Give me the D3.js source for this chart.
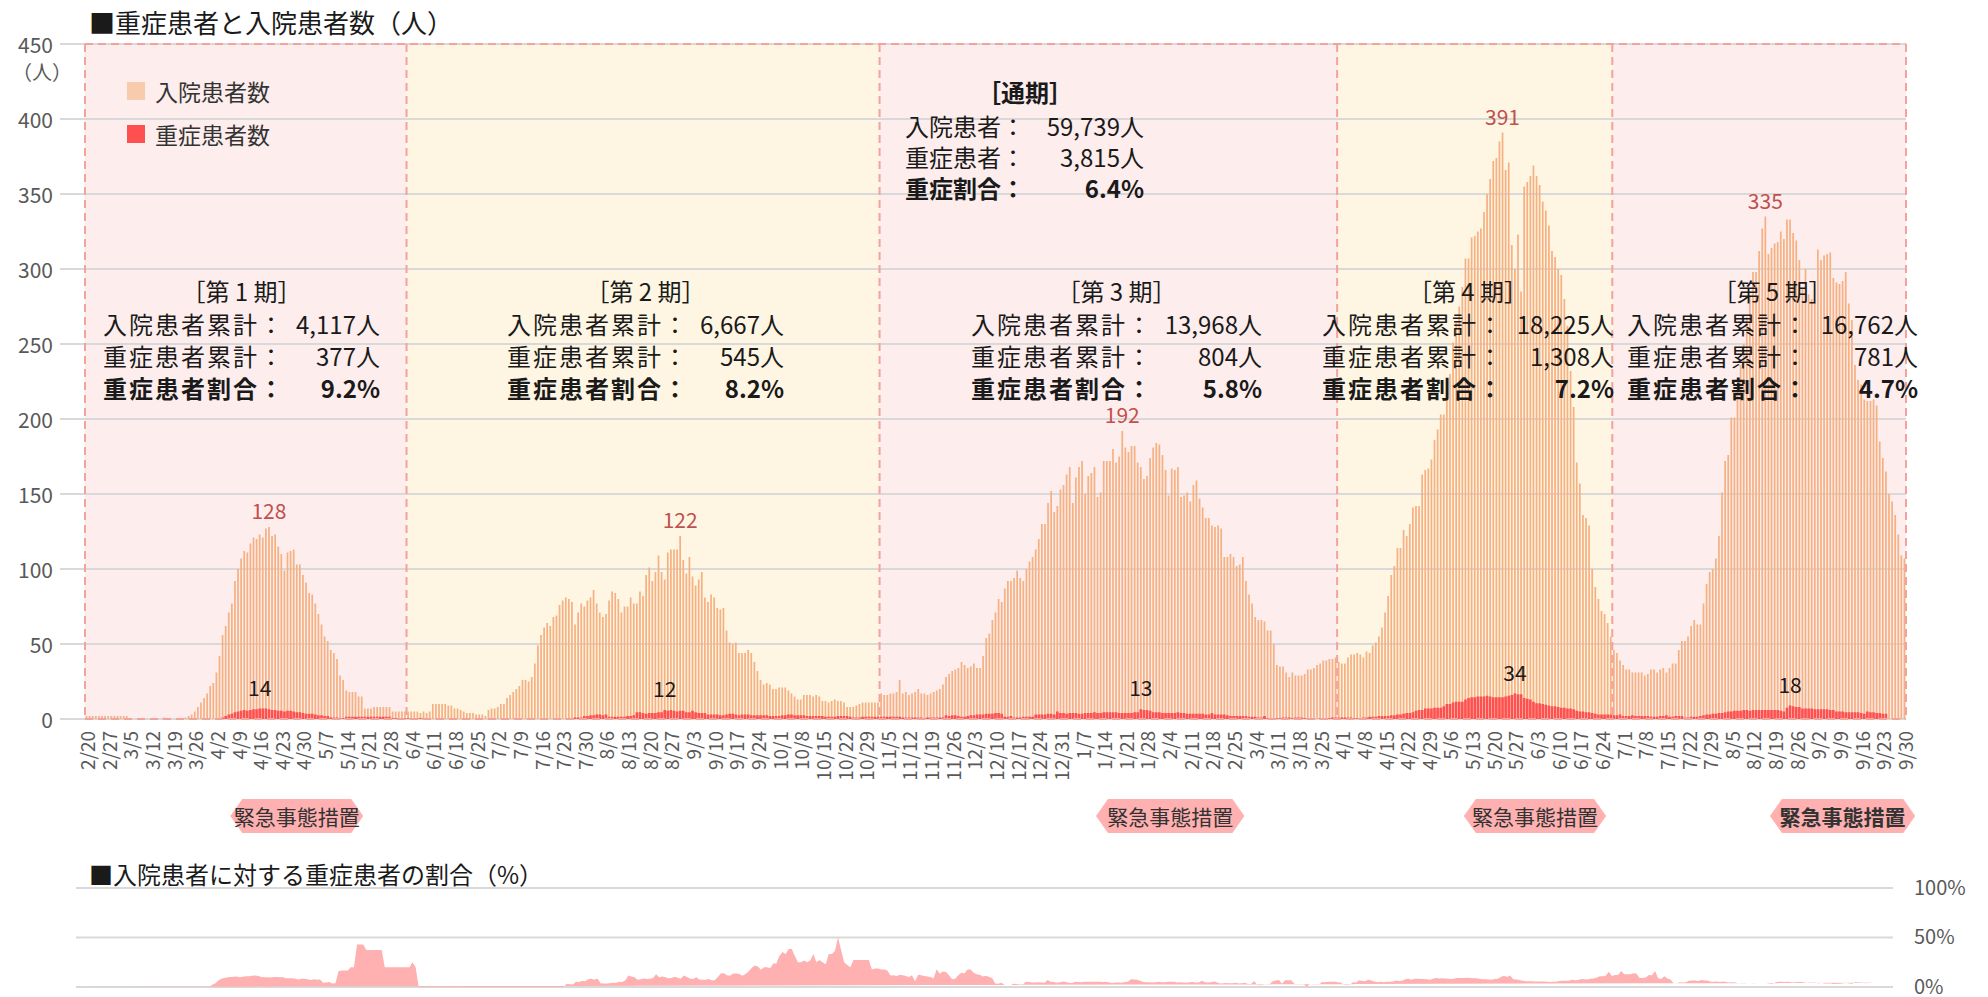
<!DOCTYPE html>
<html>
<head>
<meta charset="utf-8">
<script src="https://cdn.jsdelivr.net/npm/d3@7"></script>
<style>
body{margin:0;background:#fff;}
svg{display:block;font-family:"Noto Sans CJK JP","Noto Sans",sans-serif;}
</style>
</head>
<body>
<svg id="chart" width="1988" height="997"></svg>
<script>
// daily inpatients (入院患者数), one array per period
const hosp1 = [2,2,2,2,2,2,2,2,2,2,2,2,2,2, 0,0,0,0,0,0,0,0,0,0,0, 1, 0,0,0,0,0,0,
  1,2,3,5,8,11,14,17,22,24, 31,42,56,62,71,77,92,100,107,112,
  111,117,121,120,123,121,127,128,122,123, 115,110,99,111,112,113,103,103,96,91,
  84,83,77,70,63,55,52,46,44,40, 29,26,19,18,18,18,15,15, 7,7,7,8,8,8,8,8,8, 5,5,5,5,5]
const hosp2 = [5,5,5,5,4,5,4,5, 10,10,10,10,10,9, 9,7,7,6, 5,4,4,4,3,3,3,2, 6,7,7,8, 10,10,14,
  16,18,20,22,26,26,25,28,37,
  49,56,61,64,62,68,69,76,79,81,80,78,63,71,77,75,79,81,86,77,71,68,70,79,85,84,80,71,75,75,81,77,77,85,82,
  96,101,92,98,109,98,93,111,113,113,113,122,106,97,108,95,89,93,98,81,78,83,81,74,73,74,
  59,51,50,51,44,44,44,46,44,38, 32,26,23,24,23,20,20,21,21,21, 19,17,15,13,13,16,16,16,15,16,
  15,12,12,11,12,13,12,12,11,8, 8,8,9,10,11,11,11,11,11,11]
const hosp3 = [17,16,16,17,17,18,26,17,18,16,17,18,20,17,17,16,17,18,19,20,
  23,28,30,32,33,34,38,36,34,35,37,34,34,42, 54,57,66,71,80,78,87,92,92,94,99,
  94,92,100,105,108,113,120,130,130,144, 152,138,142,153,156,163,168,144,161,168,172,
  150,162,164,168,148,151,172,172,172,180,171,175,192,
  181,178,182,182,171,168,160,162,174,181,184,183,176,166,149,167,166,168,148,149,151,145,156,159,147,141,134,134,129,128,129,127,108,
  108,110,108,102,103,108,92,83,77,68,66,66,65,59,59,50,
  36,35,35,31,28,31,29,29,29,30,33,33,34,36,37,39,39,40,40,41]
const hosp4 = [38,37,37,41,43,43,44,43,41,45, 44,49,51,55,61,71,82,96,102,114,
  114,126,122,130,141,142,142,163,166,167, 173,186,193,203,203,220,230,251,264,275,
  288,307,307,321,322,325,327,338,350,360, 372,374,385,391,366,371,316,300,323,285,
  355,358,362,369,362,356,345,339,329,312, 308,300,296,280,262,232,208,171,157,136,
  134,129,100,88,80,72,70,64,55]
const hosp5 = [46,44,39,36,33,33,31,31,31,31, 29,30,33,33,31,33,34,31,34,37,
  37,46,52,52,55,62,66,63,63,77, 90,98,100,107,122,151,172,176,201,201,
  220,236,250,268,282,298,298,312,327,335, 310,314,317,318,325,320,333,333,324,319,
  306,287,300,283,280,278,313,306,309,310, 311,294,291,290,292,298,277,266,236,226,
  223,213,212,212,213,209,185,174,165,150, 145,136,123,109,107]

// daily severe patients (重症患者数)
const severe1 = [0,0,0,0,0,0,0,0,0,0,0,0,0,0,0,0,0,0,0,0,0,0,0,0,0,0,0,0,0,0,0,0,0,0,0,0,0,0,0,0,0,0,0,
  1,2,4,6,7,9,10,11,12, 11,12,13,13,14,14,14,13,12,12, 11,11,10,11,11,10,9,9,8,7,
  7,7,6,5,5,4,4,2,2,2, 1,1,3,3,3,3,3,3, 3,3,3,3,3,3,3,3,3, 1,1,1,1,1]
const severe2 = [1,1,1,1,1,1,
  0,0,0,0,0,0,0,0,0,0,0,0,0,0,0,0,0,0,0,0,0,0,0,0,0,0,0,0,0,0,0,0,0,0,0,0,0,0,0,0,0,0,0,0,0,0,0,0,
  2,2,2, 4,4,5,5, 6,6,5,6, 3,3,3,3,3,3,4,4,5, 9,9,8, 7,8,8,8,9,9,
  12,11,12,11,10,11,11,9,9, 11, 9,8,8,8,6,6,6,6,5,5, 6,7,7,6,5, 6,6,6,5,5,5,5,
  5,5,4,4,4,4, 5,5,6,6,5,5,5,5, 4,4,4,4,4,4,3,3,3,3, 4,4,4,4,3,2,2,2]
const severe3 = [3,3,3,3,3,3,3,3,3,3,3,3,3,2,2,2,2,2,2,2,
  1,2,2,2,2,2,2,5,4,5,5,4,3,3, 4,5,5,6,6,6,7,7,7,8,8,
  7,3,3,4,2,2,2,3,3,3, 3,6,6,6,6,7,7,6,10,8,8,
  7,8,8,8,7,7,8,8,8,9,8,8,9,
  9,9,9,9,8,8,8,8,8,9,9,13,12,12,11,9,9,9,8,8,8,8,8,9,8,8,7,7,7,7,7,7,6,
  6,8,6,6,6,6,5,4,4,4,4,4,4,3,3,3,
  2,2,4,1,1,1,1,1,2,2,2,1,2,2,2,1,1,1,1,0]
const severe4 = [1,1,1,1,2,2,2,2,2,2, 2,1,1,1,2,2,3,3,3,4,
  4,4,4,5,5,6,6,7,8,8, 9,11,12,12,14,14,14,15,15,15,
  17,20,20,22,23,23,23,26,28,29, 29,30,30,30,31,30,29,29,29,29,
  30,31,32,34,33,33,28,27,26,23, 21,21,20,19,18,17,17,16,15,15,
  14,14,13,11,10,10,9,9,8]
const severe5 = [7,6,6,6,6,6,5,5,6,4, 4,4,5,4,4,4,4,4,3,3,
  3,4,4,5,3,3,4,4,4,2, 2,3,3,3,4,5,6,6,7,7,
  8,8,9,10,10,11,11,11,12,12, 11,12,12,12,12,12,12,12,12,12,
  11,10,15,18,17,16,16,14,14,14, 14,13,13,13,13,13,12,12,10,10,
  10,9,9,9,9,9,8,7,10,9, 9,8,8,7,7]

// periods
const periodStart = ['2020-02-20','2020-06-03','2020-11-03','2021-03-31','2021-06-28','2021-10-01']
const periodTitles = ['［第 1 期］','［第 2 期］','［第 3 期］','［第 4 期］','［第 5 期］']
const periodHospTotal = ['4,117人','6,667人','13,968人','18,225人','16,762人']
const periodSevTotal = ['377人','545人','804人','1,308人','781人']
const periodRate = ['9.2%','8.2%','5.8%','7.2%','4.7%']
const periodFill = ['#fdeded','#fef6e3','#fdeded','#fef6e3','#fdeded']

// whole-period summary
const totalLabels = ['入院患者：','重症患者：','重症割合：']
const totalValues = ['59,739人','3,815人','6.4%']

// state of emergency
const emergencyStart = ['2020-04-07','2021-01-12','2021-05-11','2021-08-18']
const emergencyEnd = ['2020-05-20','2021-03-01','2021-06-26','2021-10-04']

const hospital = [...hosp1, ...hosp2, ...hosp3, ...hosp4, ...hosp5]
const severe = [...severe1, ...severe2, ...severe3, ...severe4, ...severe5]

const parse = d3.timeParse('%Y-%m-%d')
const fmt = d3.timeFormat('%-m/%-d')
const days = d3.timeDay.range(parse('2020-02-20'), parse('2021-10-01'))
const rows = days.map((d, i) => ({
  date: d, i: i, hosp: hospital[i], sev: severe[i],
  rate: hospital[i] ? severe[i] / hospital[i] * 100 : 0
}))

const svg = d3.select('#chart')
const x = d3.scaleTime().domain([days[0], parse('2021-10-01')]).range([85, 1906])
const bw = x(days[1]) - x(days[0])
const y = d3.scaleLinear().domain([0, 450]).range([719, 44])
const ySev = d3.scaleLinear().domain([0, 900]).range([719, 44]) // hidden secondary axis

const TEXT = '#1a1a1a'
const GREY = '#595959'
const DASH = '#f4a29c'

// titles
svg.append('text').attr('x', 89).attr('y', 21).attr('dominant-baseline', 'central')
  .attr('font-size', 26).attr('fill', TEXT).text('■重症患者と入院患者数（人）')

// period backgrounds
const periods = periodTitles.map((t, k) => ({
  k: k, start: parse(periodStart[k]), end: parse(periodStart[k + 1])
}))
svg.append('g').selectAll('rect').data(periods).enter().append('rect')
  .attr('x', d => x(d.start)).attr('width', d => x(d.end) - x(d.start))
  .attr('y', y(450)).attr('height', y(0) - y(450))
  .attr('fill', d => periodFill[d.k])

// grid
svg.append('g').selectAll('line').data(d3.range(0, 451, 50)).enter().append('line')
  .attr('x1', 60).attr('x2', 1906)
  .attr('y1', d => y(d)).attr('y2', d => y(d))
  .attr('stroke', '#d9d9d9').attr('stroke-width', 2)

// y axis labels
svg.append('g').selectAll('text').data(d3.range(0, 451, 50)).enter().append('text')
  .attr('x', 53).attr('y', d => y(d)).attr('text-anchor', 'end').attr('dominant-baseline', 'central')
  .attr('font-size', 21).attr('fill', GREY).text(d => d)
svg.append('text').attr('x', 42).attr('y', 71).attr('text-anchor', 'middle').attr('dominant-baseline', 'central')
  .attr('font-size', 20).attr('fill', GREY).text('（人）')

// inpatient bars
const hbw = bw * 0.56
svg.append('g').selectAll('rect').data(rows.filter(d => d.hosp > 0)).enter().append('rect')
  .attr('x', d => x(d.date) + (bw - hbw) / 2).attr('width', hbw)
  .attr('y', d => y(d.hosp)).attr('height', d => y(0) - y(d.hosp))
  .attr('fill', '#f6b183')

// severe bars
const sbw = bw * 0.85
svg.append('g').selectAll('rect').data(rows.filter(d => d.sev > 0)).enter().append('rect')
  .attr('x', d => x(d.date) + (bw - sbw) / 2).attr('width', sbw)
  .attr('y', d => ySev(d.sev)).attr('height', d => ySev(0) - ySev(d.sev))
  .attr('fill', '#ff5050')

// dashed period borders: one line per edge so the dashes never double up
const edges = periodStart.map(parse)
const borders = svg.append('g').attr('stroke', DASH).attr('stroke-width', 2).attr('stroke-dasharray', '8,5')
borders.selectAll('line.v').data(edges).enter().append('line').attr('class', 'v')
  .attr('x1', d => x(d)).attr('x2', d => x(d)).attr('y1', y(450)).attr('y2', y(0))
borders.selectAll('line.h').data([450, 0]).enter().append('line').attr('class', 'h')
  .attr('x1', x(edges[0])).attr('x2', x(edges[edges.length - 1]))
  .attr('y1', d => y(d)).attr('y2', d => y(d))

// x tick labels (weekly)
svg.append('g').selectAll('text').data(rows.filter(d => d.i % 7 === 0)).enter().append('text')
  .attr('transform', d => `translate(${x(d.date) + bw / 2},731) rotate(-90)`)
  .attr('text-anchor', 'end').attr('dominant-baseline', 'central')
  .attr('font-size', 19).attr('fill', GREY).text(d => fmt(d.date))

// legend
const legend = [['入院患者数', '#f8cbad'], ['重症患者数', '#ff5050']]
legend.forEach((l, k) => {
  svg.append('rect').attr('x', 127).attr('y', 82 + k * 43).attr('width', 18).attr('height', 18).attr('fill', l[1])
  svg.append('text').attr('x', 155).attr('y', 91 + k * 43).attr('dominant-baseline', 'central')
    .attr('font-size', 23).attr('fill', '#333').text(l[0])
})

// peak labels per period
periods.forEach(p => {
  const sub = rows.filter(d => d.date >= p.start && d.date < p.end)
  const hp = sub[d3.maxIndex(sub, d => d.hosp)]
  const sp = sub[d3.maxIndex(sub, d => d.sev)]
  svg.append('text').attr('x', x(hp.date) + bw / 2).attr('y', y(hp.hosp) - 8)
    .attr('text-anchor', 'middle').attr('font-size', 21).attr('fill', '#c0504d').text(hp.hosp)
  svg.append('text').attr('x', x(sp.date) + bw / 2).attr('y', ySev(sp.sev) - 13)
    .attr('text-anchor', 'middle').attr('font-size', 21).attr('fill', TEXT).text(sp.sev)
})

// period summaries
const blockX0 = [103, 507, 971, 1322, 1627]
const blockX1 = [380, 784, 1262, 1614, 1918]
periods.forEach(p => {
  const k = p.k, x0 = blockX0[k], x1 = blockX1[k]
  const g = svg.append('g').attr('font-size', 24).attr('fill', TEXT).attr('dominant-baseline', 'central')
  g.append('text').attr('x', (x0 + x1) / 2).attr('y', 290).attr('text-anchor', 'middle').text(periodTitles[k])
  g.append('text').attr('x', x0).attr('y', 323).attr('letter-spacing', 2).text('入院患者累計：')
  g.append('text').attr('x', x1).attr('y', 323).attr('text-anchor', 'end').text(periodHospTotal[k])
  g.append('text').attr('x', x0).attr('y', 355).attr('letter-spacing', 2).text('重症患者累計：')
  g.append('text').attr('x', x1).attr('y', 355).attr('text-anchor', 'end').text(periodSevTotal[k])
  g.append('text').attr('x', x0).attr('y', 387).attr('letter-spacing', 2).attr('font-weight', 'bold').text('重症患者割合：')
  g.append('text').attr('x', x1).attr('y', 387).attr('text-anchor', 'end').attr('font-weight', 'bold').text(periodRate[k])
})

// whole period summary
const tg = svg.append('g').attr('font-size', 24).attr('fill', TEXT).attr('dominant-baseline', 'central')
tg.append('text').attr('x', 1025).attr('y', 91).attr('text-anchor', 'middle').attr('font-weight', 'bold').text('［通期］')
totalLabels.forEach((l, k) => {
  const bold = k === 2 ? 'bold' : 'normal'
  tg.append('text').attr('x', 905).attr('y', 125 + k * 31).attr('font-weight', bold).text(l)
  tg.append('text').attr('x', 1144).attr('y', 125 + k * 31).attr('text-anchor', 'end').attr('font-weight', bold).text(totalValues[k])
})

// state of emergency tags
emergencyStart.forEach((s, k) => {
  const a = x(parse(s)), b = x(parse(emergencyEnd[k])), t = 799, btm = 833, m = (t + btm) / 2, h = 12
  svg.append('path')
    .attr('d', `M${a},${m}L${a + h},${t}L${b - h},${t}L${b},${m}L${b - h},${btm}L${a + h},${btm}Z`)
    .attr('fill', '#ffb0b0')
  svg.append('text').attr('x', (a + b) / 2).attr('y', m).attr('text-anchor', 'middle').attr('dominant-baseline', 'central')
    .attr('font-size', 21).attr('fill', '#333').attr('font-weight', k === 3 ? 'bold' : 'normal').text('緊急事態措置')
})

// ratio chart
svg.append('text').attr('x', 89).attr('y', 873).attr('dominant-baseline', 'central')
  .attr('font-size', 24).attr('fill', TEXT).text('■入院患者に対する重症患者の割合（%）')
const xr = d3.scaleTime().domain(x.domain()).range([78, 1894])
const bwr = xr(days[1]) - xr(days[0])
const yr = d3.scaleLinear().domain([0, 100]).range([987, 888])
svg.append('g').selectAll('line').data([0, 50, 100]).enter().append('line')
  .attr('x1', 76).attr('x2', 1893).attr('y1', d => yr(d)).attr('y2', d => yr(d))
  .attr('stroke', '#d9d9d9').attr('stroke-width', 2)
svg.append('path').datum(rows)
  .attr('d', d3.area().x(d => xr(d.date) + bwr / 2).y0(yr(0)).y1(d => yr(d.rate)))
  .attr('fill', '#ffb0b0')
svg.append('g').selectAll('text').data([0, 50, 100]).enter().append('text')
  .attr('x', 1914).attr('y', d => yr(d) - 2).attr('dominant-baseline', 'central')
  .attr('font-size', 20).attr('fill', GREY).text(d => d + '%')
</script>
</body>
</html>
